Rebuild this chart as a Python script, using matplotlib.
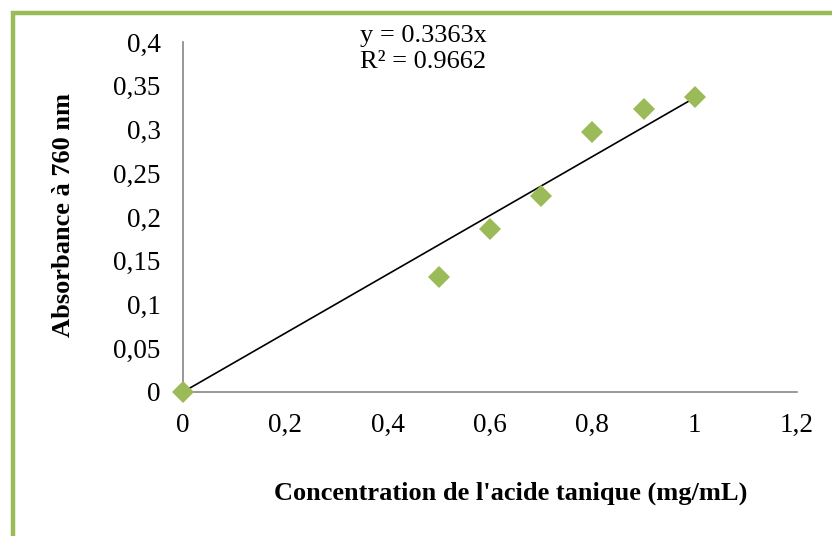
import numpy as np
import matplotlib.pyplot as plt
import matplotlib.patches as patches

plt.rcParams['font.family'] = ['Liberation Serif', 'DejaVu Serif']

# data
conc = [0, 0.5, 0.6, 0.7, 0.8, 0.9, 1.0]
absorb = [0, 0.131, 0.186, 0.224, 0.297, 0.323, 0.337]
slope = 0.3363
r2 = 0.9662
xticks = [0, 0.2, 0.4, 0.6, 0.8, 1.0, 1.2]
yticks = [0, 0.05, 0.1, 0.15, 0.2, 0.25, 0.3, 0.35, 0.4]

green = '#9BBB59'
axis_grey = '#868686'

fig = plt.figure(figsize=(8.32, 5.36), dpi=100)
ax = fig.add_axes([0.22, 0.2687, 0.738, 0.653])

# green frame, only top and left edges are visible in the picture
frame = patches.Rectangle((12.5 / 832, -0.1), 1.2, 1 - 12.5 / 536 + 0.1,
                          transform=fig.transFigure, fill=False,
                          edgecolor=green, linewidth=3.2, clip_on=False)
fig.patches.append(frame)

# trend line through origin
xl = np.array([0, max(conc)])
ax.plot(xl, slope * xl, color='black', linewidth=1.2, zorder=2)
ax.plot(conc, absorb, linestyle='none', marker='D', markersize=11.5,
        color=green, markeredgewidth=0, zorder=3, clip_on=False)

ax.set_xlim(0, 1.2)
ax.set_ylim(0, 0.4)
ax.set_xticks(xticks)
ax.set_yticks(yticks)
ax.set_xticklabels([('%g' % v).replace('.', ',') for v in xticks])
ax.set_yticklabels([('%g' % v).replace('.', ',') for v in yticks])
ax.tick_params(length=0, labelsize=19.5)
ax.tick_params(axis='x', pad=15)
ax.tick_params(axis='y', pad=16)

for s in ['top', 'right']:
    ax.spines[s].set_visible(False)
for s in ['left', 'bottom']:
    ax.spines[s].set_color(axis_grey)
    ax.spines[s].set_linewidth(1.2)

ax.set_xlabel("Concentration de l'acide tanique (mg/mL)", fontsize=19, fontweight='bold')
ax.set_ylabel('Absorbance à 760 nm', fontsize=19, fontweight='bold')
ax.xaxis.set_label_coords(0.533, -0.257)
ax.yaxis.set_label_coords(-0.176, 0.506)

ax.text(0.288, 0.98, 'y = 0.3363x\nR² = %.4f' % r2, transform=ax.transAxes,
        fontsize=19, va='center', ha='left', linespacing=1.2)

fig.savefig('out.png', dpi=100)
